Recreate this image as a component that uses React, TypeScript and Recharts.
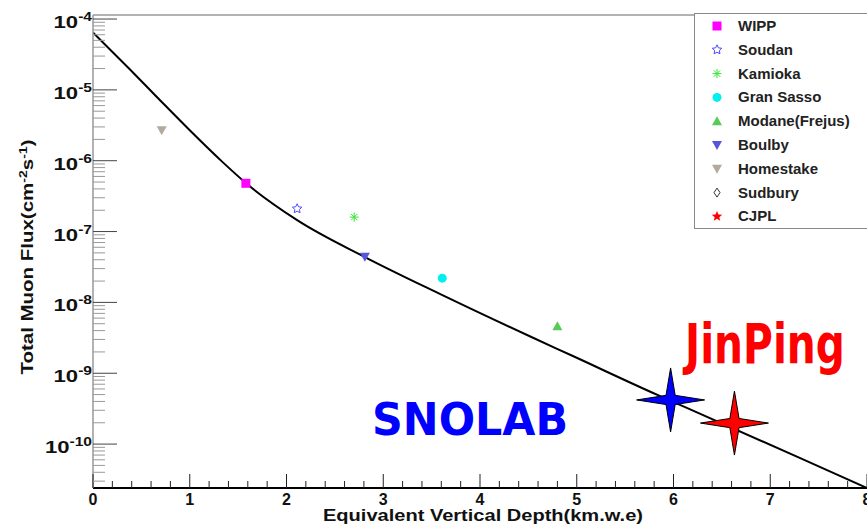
import { ComposedChart, Line, Scatter, XAxis, YAxis, ReferenceLine } from 'recharts';

// muon flux curve vs depth
const curveDepth = [0, 0.38, 0.66, 1.0, 1.34, 1.58, 2.11, 2.81, 3.59, 4.52, 4.96, 5.84, 6.12, 7.31, 8.0];
const curveFlux = [6.46e-5, 1.95e-5, 7.94e-6, 2.69e-6, 9.55e-7, 4.84e-7, 1.45e-7, 4.37e-8, 1.31e-8, 3.3e-9, 1.75e-9, 4.9e-10, 3.33e-10, 6.34e-11, 2.4e-11];

// underground labs
const siteNames = ['WIPP', 'Soudan', 'Kamioka', 'Gran Sasso', 'Modane(Frejus)', 'Boulby', 'Homestake', 'Sudbury', 'CJPL'];
const siteDepth = [1.58, 2.11, 2.7, 3.61, 4.8, 2.81, 0.71, 5.97, 6.63];
const siteFlux = [4.8e-7, 2.1e-7, 1.6e-7, 2.2e-8, 4.6e-9, 4.4e-8, 2.7e-6, 4.2e-10, 1.98e-10];
const siteKinds = ['square', 'openStar', 'asterisk', 'circle', 'triUp', 'triDown', 'triDown', 'diamond', 'redStar'];
const siteColors = ['#ff00ff', '#4a4aff', '#33e633', '#00f0f0', '#55cc55', '#5656dd', '#b3aa9e', '#333333', '#ff0000'];

// highlighted labs
const labNames = ['SNOLAB', 'JinPing'];
const labDepth = [5.97, 6.63];
const labFlux = [4.2e-10, 1.98e-10];
const labColors = ['#0000ff', '#ff0000'];

const xMajor = [0, 1, 2, 3, 4, 5, 6, 7, 8];
const yDecades = [-11, -10, -9, -8, -7, -6, -5, -4];
const yDomain = [2.4e-11, 1.14e-4];

const curve = curveDepth.map((x, i) => ({ x, flux: curveFlux[i] }));

const xTicks: number[] = [];
xMajor.forEach((m) => {
  for (let k = 0; k < 5; k++) {
    const v = Math.round((m + k * 0.2) * 10) / 10;
    if (v <= 8) xTicks.push(v);
  }
});

const yTicks: number[] = [];
yDecades.forEach((e) => {
  for (let m = 1; m <= 9; m++) {
    const v = Number(`${m}e${e}`);
    if (v >= yDomain[0] && v <= yDomain[1]) yTicks.push(v);
  }
});

const FONT = '"Liberation Sans", Arial, sans-serif';

function starPts(cx: number, cy: number, rOut: number, rIn: number, n: number, rotate = -Math.PI / 2) {
  const pts: string[] = [];
  for (let i = 0; i < n * 2; i++) {
    const r = i % 2 === 0 ? rOut : rIn;
    const a = rotate + (i * Math.PI) / n;
    pts.push(`${cx + r * Math.cos(a)},${cy + r * Math.sin(a)}`);
  }
  return pts.join(' ');
}

function Marker({ kind, color, cx, cy }: { kind: string; color: string; cx: number; cy: number }) {
  switch (kind) {
    case 'square':
      return <rect x={cx - 4.5} y={cy - 4.5} width={9} height={9} fill={color} />;
    case 'openStar':
      return <polygon points={starPts(cx, cy, 5, 2.4, 5)} fill="none" stroke={color} strokeWidth={1} />;
    case 'asterisk':
      return (
        <g stroke={color} strokeWidth={1}>
          <line x1={cx - 4.5} y1={cy} x2={cx + 4.5} y2={cy} />
          <line x1={cx} y1={cy - 4.5} x2={cx} y2={cy + 4.5} />
          <line x1={cx - 3.2} y1={cy - 3.2} x2={cx + 3.2} y2={cy + 3.2} />
          <line x1={cx - 3.2} y1={cy + 3.2} x2={cx + 3.2} y2={cy - 3.2} />
        </g>
      );
    case 'circle':
      return <circle cx={cx} cy={cy} r={4.5} fill={color} />;
    case 'triUp':
      return <polygon points={`${cx},${cy - 5} ${cx + 5},${cy + 4} ${cx - 5},${cy + 4}`} fill={color} />;
    case 'triDown':
      return <polygon points={`${cx - 5},${cy - 4} ${cx + 5},${cy - 4} ${cx},${cy + 5}`} fill={color} />;
    case 'diamond':
      return <polygon points={`${cx},${cy - 4.5} ${cx + 3},${cy} ${cx},${cy + 4.5} ${cx - 3},${cy}`} fill="none" stroke={color} strokeWidth={1} />;
    case 'redStar':
      return <polygon points={starPts(cx, cy, 5.5, 2.4, 5)} fill={color} />;
    default:
      return null;
  }
}

function BigStar({ cx, cy, color }: { cx: number; cy: number; color: string }) {
  const ri = 6.5;
  const d = ri * Math.SQRT1_2;
  const pts = [
    [cx, cy - 32], [cx + d, cy - d], [cx + 34, cy], [cx + d, cy + d],
    [cx, cy + 32], [cx - d, cy + d], [cx - 34, cy], [cx - d, cy - d],
  ].map((p) => p.join(',')).join(' ');
  return <polygon points={pts} fill={color} stroke="#000" strokeWidth={1} />;
}

const XTick = (p: any) => {
  const { x, y, payload } = p;
  const v = payload.value as number;
  const major = Math.abs(v - Math.round(v)) < 1e-6;
  return (
    <g>
      <line x1={x} x2={x} y1={y} y2={y - (major ? 14 : 7)} stroke="#222" strokeWidth={1} />
      {major && (
        <text x={x} y={y + 17} textAnchor="middle" fontFamily={FONT} fontWeight="bold" fontSize={16} fill="#111">
          {Math.round(v)}
        </text>
      )}
    </g>
  );
};

const YTick = (p: any) => {
  const { x, y, payload } = p;
  const v = payload.value as number;
  const lg = Math.log10(v);
  const exp = Math.round(lg);
  const major = Math.abs(lg - exp) < 1e-6;
  return (
    <g>
      <line x1={x} x2={x + (major ? 24 : 12)} y1={y} y2={y} stroke={major ? '#444' : '#999'} strokeWidth={1} />
      {major && (
        <g transform={`translate(${x - 1},${y + 9}) scale(1.3,1)`}>
          <text x={0} y={0} textAnchor="end" fontFamily={FONT} fontWeight="bold" fontSize={17} fill="#111">
            <tspan>10</tspan>
            <tspan dy={-7} fontSize={12}>{exp}</tspan>
          </text>
        </g>
      )}
    </g>
  );
};

const legendTop = 26;
const legendStep = 23.8;

export default function App() {
  return (
    <div style={{ position: 'absolute', left: 0, top: 0, width: 867, height: 532, background: '#fff' }}>
      <ComposedChart width={867} height={532} data={curve} margin={{ top: 15, right: 0, bottom: 0, left: 0 }}>
        <XAxis
          dataKey="x"
          type="number"
          domain={[0, 8]}
          allowDataOverflow
          ticks={xTicks}
          interval={0}
          tickSize={0}
          tickMargin={0}
          tick={<XTick />}
          height={44}
          axisLine={{ stroke: '#000', strokeWidth: 2 }}
          label={{
            content: () => (
              <text x={323} y={521} textLength={320} lengthAdjust="spacingAndGlyphs" fontFamily={FONT} fontWeight="bold" fontSize={17} fill="#111">
                Equivalent Vertical Depth(km.w.e)
              </text>
            ),
          }}
        />
        <YAxis
          dataKey="flux"
          type="number"
          scale="log"
          domain={yDomain}
          allowDataOverflow
          ticks={yTicks}
          interval={0}
          tickSize={0}
          tickMargin={0}
          tick={<YTick />}
          width={93}
          axisLine={{ stroke: '#999', strokeWidth: 1.5 }}
          label={{
            content: () => (
              <g transform="translate(33,257) rotate(-90) scale(1.28,1)">
                <text x={0} y={0} textAnchor="middle" fontFamily={FONT} fontWeight="bold" fontSize={16} fill="#111">
                  <tspan>Total Muon Flux(cm</tspan>
                  <tspan dy={-6} fontSize={11}>-2</tspan>
                  <tspan dy={6}>s</tspan>
                  <tspan dy={-6} fontSize={11}>-1</tspan>
                  <tspan dy={6}>)</tspan>
                </text>
              </g>
            ),
          }}
        />
        <ReferenceLine y={yDomain[1]} stroke="#999" strokeWidth={1.5} />
        <Line dataKey="flux" type="monotone" stroke="#000" strokeWidth={2} dot={false} isAnimationActive={false} />
        {siteNames.map((name, i) => (
          <Scatter
            key={name}
            name={name}
            data={[{ x: siteDepth[i], flux: siteFlux[i] }]}
            isAnimationActive={false}
            shape={(sp: any) => <Marker kind={siteKinds[i]} color={siteColors[i]} cx={sp.cx} cy={sp.cy} />}
          />
        ))}
        {labNames.map((name, i) => (
          <Scatter
            key={name}
            name={name}
            data={[{ x: labDepth[i], flux: labFlux[i] }]}
            isAnimationActive={false}
            shape={(sp: any) => <BigStar cx={sp.cx} cy={sp.cy} color={labColors[i]} />}
          />
        ))}
      </ComposedChart>
      <svg width={867} height={532} style={{ position: 'absolute', left: 0, top: 0, pointerEvents: 'none' }}>
        <text x={372} y={435} textLength={196} lengthAdjust="spacingAndGlyphs" fontFamily='"DejaVu Sans", sans-serif' fontWeight="bold" fontSize={44} fill={labColors[0]}>
          {labNames[0]}
        </text>
        <text x={685} y={363} textLength={160} lengthAdjust="spacingAndGlyphs" fontFamily='"DejaVu Sans", sans-serif' fontWeight="bold" fontSize={55} fill={labColors[1]}>
          {labNames[1]}
        </text>
        <rect x={694.5} y={13.5} width={180} height={215} fill="#fff" stroke="#888" strokeWidth={1} />
        {siteNames.map((name, i) => {
          const cy = legendTop + i * legendStep;
          return (
            <g key={name}>
              <Marker kind={siteKinds[i]} color={siteColors[i]} cx={717} cy={cy} />
              <text x={738} y={cy + 5} fontFamily={FONT} fontWeight="bold" fontSize={15} fill="#222">
                {name}
              </text>
            </g>
          );
        })}
      </svg>
    </div>
  );
}
